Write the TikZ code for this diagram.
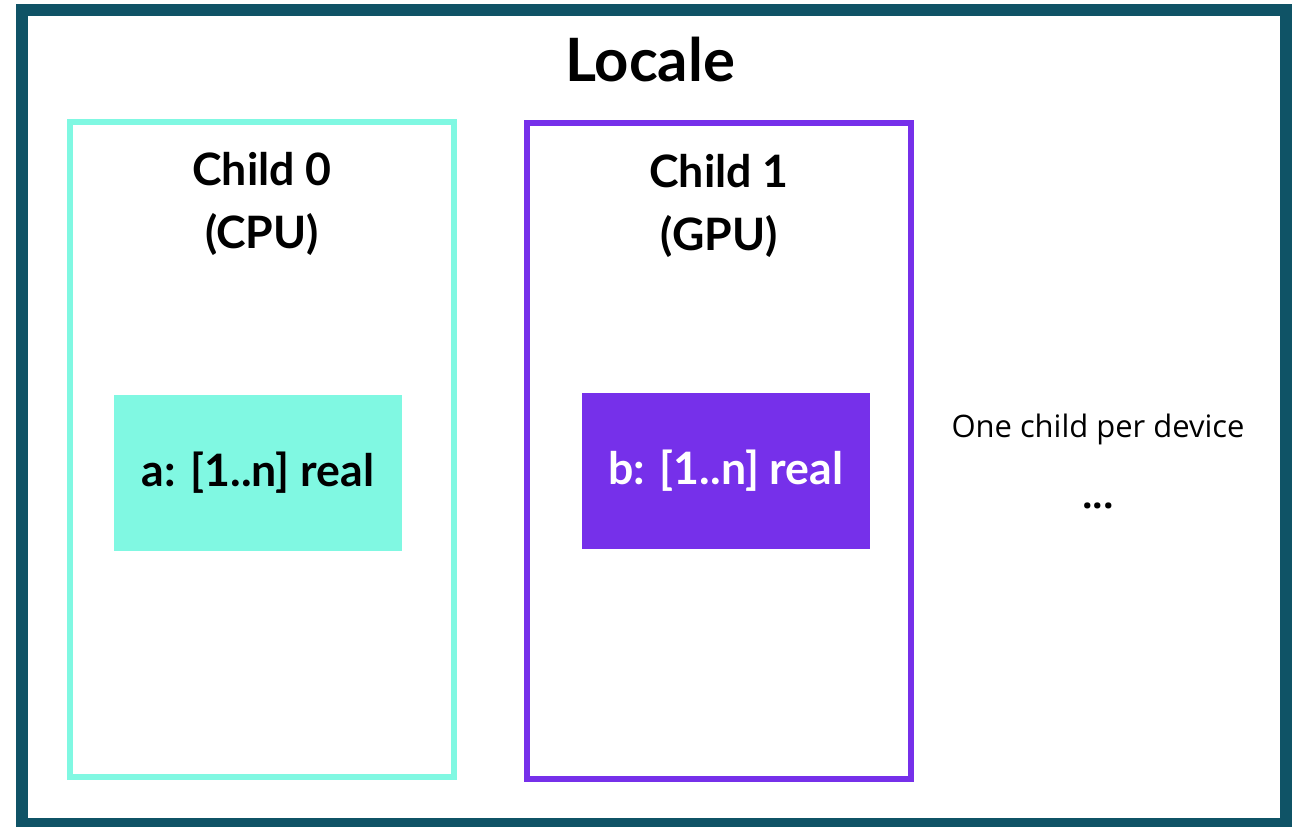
\documentclass[tikz,border=0pt]{standalone}
\usepackage{fontspec}
\setmainfont{Lato}
\setsansfont{Open Sans}
\usetikzlibrary{positioning}
\definecolor{frame}{HTML}{0F5366}
\definecolor{cpu}{HTML}{80F8E2}
\definecolor{gpu}{HTML}{7630EA}

\begin{document}
\begin{tikzpicture}[
  x=0.01cm,y=-0.01cm,
  dev/.style={draw,line width=0.06cm,inner sep=0pt,minimum width=3.84cm,minimum height=6.55cm},
  arr/.style={inner sep=0pt,minimum width=2.88cm,minimum height=1.56cm,
              font=\fontsize{12.7}{15}\selectfont\bfseries},
  t/.style={font=\fontsize{12.7}{15}\selectfont\bfseries,inner sep=0pt},
  note/.style={font=\sffamily\fontsize{8.8}{11}\selectfont,inner sep=0pt}]
\useasboundingbox (0,0) rectangle (1301,826);
\draw[frame,line width=0.12cm] (22,10) rectangle (1286,824);
\node[t,font=\fontsize{17}{20}\selectfont\bfseries] (loc) at (650,60) {Locale};
% children
\node[dev,cpu] (ch0) at (262,449.5) {};
\node[dev,gpu] (ch1) at (719,451) {};
\node[t] (c0) at (262,169) {Child 0};
\node[t] (p0) at (262,234) {(CPU)};
\node[t] (c1) at (719,171) {Child 1};
\node[t] (p1) at (719,236) {(GPU)};
\node[arr,fill=cpu] (a) at (258,473) {a: [1..n] real};
\node[arr,fill=gpu,text=white] (b) at (726,471) {b: [1..n] real};
\node[note] (one) at (1098,429) {One child per device};
\node[note,font=\sffamily\bfseries\fontsize{10.5}{12}\selectfont] (dots) at (1098,506) {...};
\end{tikzpicture}
\end{document}
